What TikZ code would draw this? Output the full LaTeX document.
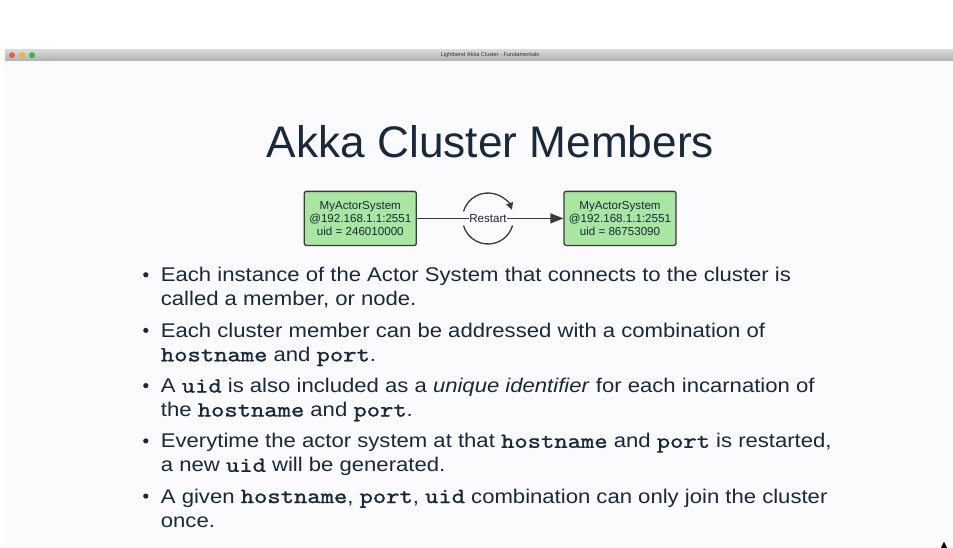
\documentclass[tikz,border=0pt]{standalone}
\usepackage{fontspec}
\setmainfont{Liberation Sans}
\newfontfamily\bodyfont[FakeStretch=1.116]{Liberation Sans}
\newfontfamily\codefont[FakeStretch=1.18,FakeBold=1.2]{lmmono10-regular.otf}
\usepackage{xcolor}
\usetikzlibrary{arrows.meta}

\definecolor{ink}{HTML}{17293A}
\definecolor{slidebg}{HTML}{FBFAFC}
\definecolor{boxgreen}{HTML}{A8E6A1}
\definecolor{edgegray}{HTML}{3A3A3A}
\definecolor{barlight}{HTML}{DADADA}
\definecolor{bardark}{HTML}{B2B2B2}
\definecolor{lightred}{HTML}{EC5B53}
\definecolor{lightamber}{HTML}{F0B232}
\definecolor{lightgreen}{HTML}{33B844}

\newcommand{\code}[1]{{\codefont\fontsize{21.5}{24}\selectfont #1}}

\begin{document}
\begin{tikzpicture}[x=1pt,y=-1pt,
    every node/.style={inner sep=0pt, text=ink},
    member/.style={draw=edgegray, line width=1.3pt, fill=boxgreen, rounded corners=2pt,
        minimum width=112pt, minimum height=54pt, align=center,
        font=\fontsize{11.6}{13.2}\selectfont},
    textline/.style={anchor=base west, font=\bodyfont\fontsize{19.8}{24}\selectfont},
    bulletdot/.style={circle, fill=ink, minimum size=5.2pt},
    wire/.style={draw=edgegray, line width=1.3pt}]
    \useasboundingbox (0,0) rectangle (953,548);
    % window
    \fill [white] (0,0) rectangle (953,548);
    \fill [slidebg] (5,60.7) rectangle (953,548);
    \shade [top color=barlight, bottom color=bardark] (5,49.3) rectangle (953,60.7);
    \fill [lightred] (12,55.2) circle [radius=3pt];
    \fill [lightamber] (22,55.2) circle [radius=3pt];
    \fill [lightgreen] (32,55.2) circle [radius=3pt];
    \node [text=black!80, font=\fontsize{5.6}{6}\selectfont] (bartitle) at (490,55.2) {Lightbend Akka Cluster - Fundamentals};
    \fill [black] (941,548) -- (947,548) -- (944,541.5) -- cycle;
    % title
    \node [anchor=base, font=\fontsize{44.2}{54}\selectfont] (title) at (490.5,157.7) {Akka Cluster Members};
    % diagram
    \node [member] (oldsys) at (360.3,218.4) {MyActorSystem\\@192.168.1.1:2551\\uid = 246010000};
    \node [member] (newsys) at (620,218.4) {MyActorSystem\\@192.168.1.1:2551\\uid = 86753090};
    \coordinate (loop) at (488,218.5);
    \draw [wire, -{Triangle[length=7pt,width=7pt]}] ([shift={(164:25.5pt)}]loop) arc [start angle=164, end angle=20, radius=25.5pt];
    \draw [wire] ([shift={(196:25.5pt)}]loop) arc [start angle=196, end angle=344, radius=25.5pt];
    \draw [wire, -{Triangle[length=13pt,width=10pt]}] (oldsys) -- (newsys);
    \node [fill=slidebg, inner xsep=0.5pt, inner ysep=1.5pt, font=\fontsize{11.6}{13.2}\selectfont] (restart) at (loop) {Restart};
    % bullets
    \foreach \i/\y in {1/281.7, 2/337.3, 3/392.5, 4/447.8, 5/503}
        \node [bulletdot] (dot\i) at (145.8,\y-6.9) {};
    \node [textline] (line1a) at (160.7,281.7) {Each instance of the Actor System that connects to the cluster is};
    \node [textline] (line1b) at (160.7,305.7) {called a member, or node.};
    \node [textline] (line2a) at (160.7,337.3) {Each cluster member can be addressed with a combination of};
    \node [textline] (line2b) at (160.7,361.3) {\code{hostname} and \code{port}.};
    \node [textline] (line3a) at (160.7,392.5) {A \code{uid} is also included as a \textit{unique identifier} for each incarnation of};
    \node [textline] (line3b) at (160.7,416.5) {the \code{hostname} and \code{port}.};
    \node [textline] (line4a) at (160.7,447.8) {Everytime the actor system at that \code{hostname} and \code{port} is restarted,};
    \node [textline] (line4b) at (160.7,471.8) {a new \code{uid} will be generated.};
    \node [textline] (line5a) at (160.7,503) {A given \code{hostname}, \code{port}, \code{uid} combination can only join the cluster};
    \node [textline] (line5b) at (160.7,527) {once.};
\end{tikzpicture}
\end{document}
